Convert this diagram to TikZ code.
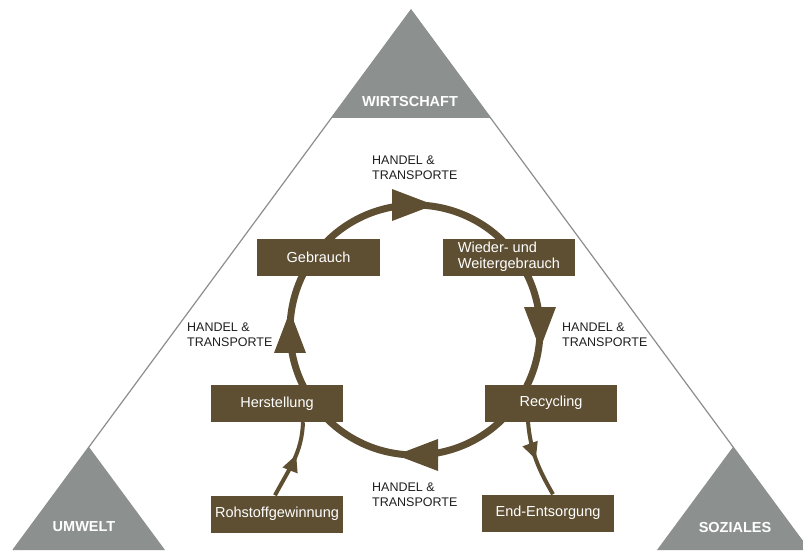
\documentclass[tikz,border=0pt]{standalone}
\usepackage{fontspec}
\setmainfont{Liberation Sans}
\usetikzlibrary{arrows.meta, decorations.markings}

\definecolor{boxbrown}{RGB}{94,79,51}
\definecolor{cornergray}{RGB}{140,145,143}
\definecolor{edgegray}{RGB}{138,142,140}
\definecolor{labelgray}{RGB}{30,30,30}

% arrowhead laid along the ring, centred a little before the mark
\newcommand{\ringhead}{\fill[boxbrown] (-23pt,-16pt) -- (19pt,0pt) -- (-23pt,16pt) -- cycle;}

\begin{document}
\begin{tikzpicture}[x=1pt, y=1pt,
		stage/.style={rectangle, fill=boxbrown, text=white, minimum width=132pt, minimum height=37pt, inner sep=2pt, font=\fontsize{14.5}{16.5}\selectfont},
		flow/.style={anchor=west, align=left, text=labelgray, inner sep=0pt, font=\fontsize{12.5}{15}\selectfont},
		corner/.style={text=white, font=\bfseries\fontsize{14.5}{16}\selectfont},
		ring/.style={color=boxbrown, line width=7pt},
		feed/.style={color=boxbrown, line width=4pt},
		smalltip/.tip={Triangle[length=17pt, width=15pt]}]
		
		\useasboundingbox (0,0) rectangle (803,550);
		
		% outer triangle with its three grey corners
		\draw[edgegray, line width=1.2pt] (13,0) -- (411,540) -- (809,0);
		\fill[cornergray] (411,540) -- (331,432) -- (491,432) -- cycle;
		\fill[cornergray] (89,103) -- (13,0) -- (165,0) -- cycle;
		\fill[cornergray] (733,103) -- (657,0) -- (809,0) -- cycle;
		
		\node[corner] (wirt) at (410,448) {WIRTSCHAFT};
		\node[corner] (umwelt) at (84,23) {UMWELT};
		\node[corner] (sozial) at (735,22) {SOZIALES};
		
		% the cycle, clockwise from the lower left
		\coordinate (hub) at (415,220);
		\draw[ring, postaction={decorate}, decoration={markings,
				mark=at position 0.125 with {\ringhead},
				mark=at position 0.375 with {\ringhead},
				mark=at position 0.625 with {\ringhead},
				mark=at position 0.875 with {\ringhead}}]
			(hub) ++(225:125) arc[start angle=225, end angle=-135, radius=125];
		
		\node[stage, minimum width=123pt] (gebr) at (318.5,293) {Gebrauch};
		\node[stage, align=left] (wieder) at (509,293) {Wieder- und\\Weitergebrauch};
		\node[stage] (herst) at (277,146.5) {Herstellung};
		\node[stage] (rohst) at (277,36) {Rohstoffgewinnung};
		\node[stage] (recyc) at (551,147) {Recycling};
		\node[stage] (ende) at (548,37) {End-Entsorgung};
		
		\draw[feed, postaction={decorate}, decoration={markings, mark=at position 0.58 with {\arrow{smalltip}}}]
			([xshift=-2pt]rohst.north) to[out=62, in=-92] ([xshift=26pt]herst.south);
		\draw[feed, postaction={decorate}, decoration={markings, mark=at position 0.5 with {\arrow{smalltip}}}]
			([xshift=-23pt]recyc.south) to[out=-85, in=120] ([xshift=5pt]ende.north);
		
		\node[flow] (hdtop) at (372,382.5) {HANDEL \&\\TRANSPORTE};
		\node[flow] (hdleft) at (187,215.5) {HANDEL \&\\TRANSPORTE};
		\node[flow] (hdright) at (562,215.5) {HANDEL \&\\TRANSPORTE};
		\node[flow] (hdbottom) at (372,55.5) {HANDEL \&\\TRANSPORTE};
		
	\end{tikzpicture}
\end{document}
